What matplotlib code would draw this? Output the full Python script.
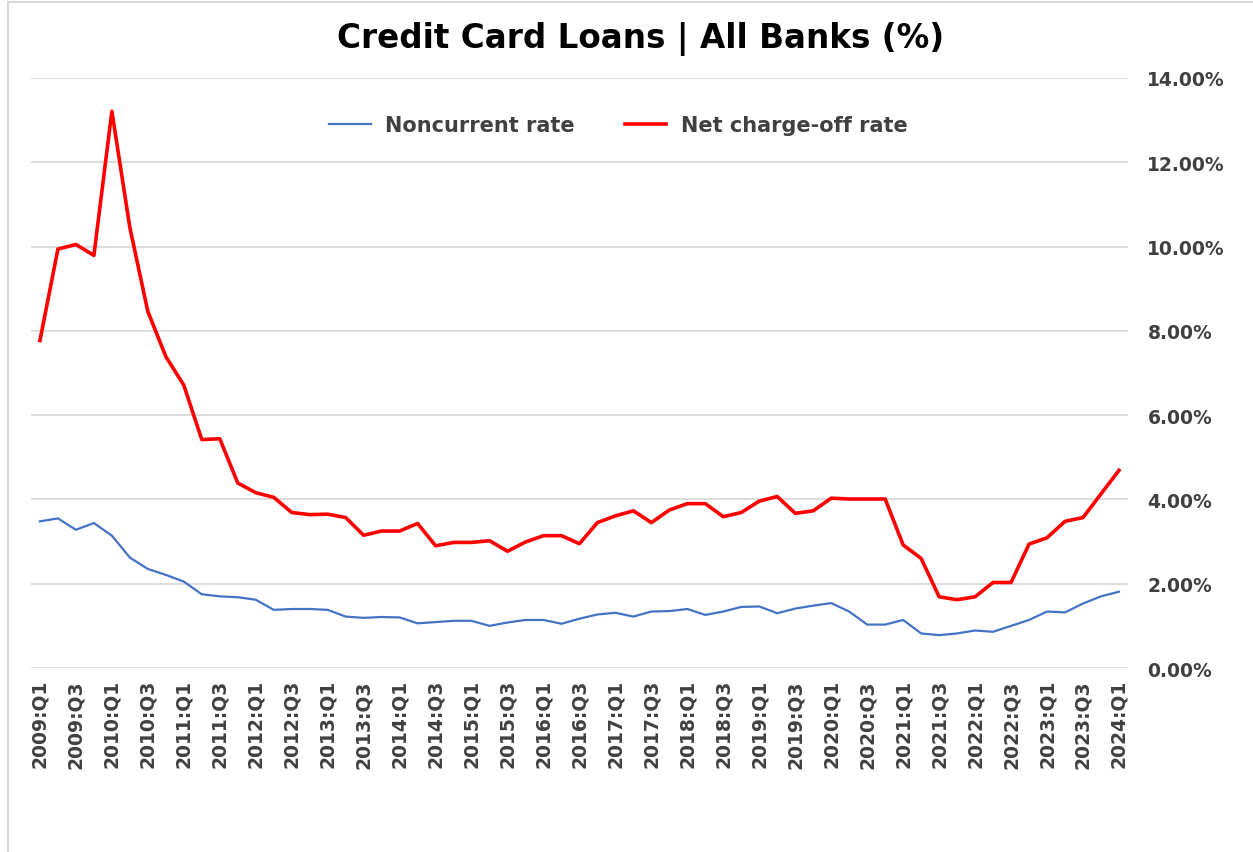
import matplotlib.pyplot as plt
from matplotlib.ticker import FuncFormatter
from matplotlib.patches import Rectangle

# quarterly series, 2009:Q1 .. 2024:Q1 (values in %)
years = list(range(2009, 2025))
quarters = [f"{y}:Q{q}" for y in years for q in range(1, 5)][:61]

noncurrent = [3.48, 3.55, 3.28, 3.44, 3.14, 2.62, 2.35, 2.21, 2.05, 1.75,
              1.70, 1.68, 1.62, 1.38, 1.40, 1.40, 1.38, 1.22, 1.19, 1.21,
              1.20, 1.06, 1.09, 1.12, 1.12, 1.00, 1.08, 1.14, 1.14, 1.05,
              1.17, 1.27, 1.31, 1.22, 1.34, 1.35, 1.40, 1.26, 1.34, 1.45,
              1.46, 1.30, 1.41, 1.48, 1.54, 1.34, 1.03, 1.03, 1.14, 0.82,
              0.78, 0.82, 0.89, 0.86, 1.00, 1.14, 1.34, 1.32, 1.53, 1.70,
              1.81]
net_chargeoff = [7.77, 9.94, 10.05, 9.79, 13.21, 10.45, 8.46, 7.39, 6.71, 5.42,
                 5.44, 4.39, 4.16, 4.05, 3.69, 3.64, 3.65, 3.57, 3.15, 3.25,
                 3.25, 3.43, 2.90, 2.98, 2.98, 3.02, 2.77, 2.99, 3.14, 3.14,
                 2.95, 3.45, 3.61, 3.73, 3.45, 3.75, 3.90, 3.90, 3.59, 3.69,
                 3.96, 4.07, 3.67, 3.73, 4.03, 4.01, 4.01, 4.01, 2.92, 2.60,
                 1.69, 1.62, 1.69, 2.03, 2.03, 2.94, 3.09, 3.48, 3.57, 4.13,
                 4.69]

plt.rcParams['font.family'] = ['DejaVu Sans']
fig = plt.figure(figsize=(12.53, 8.53), dpi=100)
ax = fig.add_axes([0.0247, 0.2157, 0.8755, 0.6917])

# light frame around the chart area (right/bottom edges fall outside)
fig.patches.append(Rectangle((8 / 1253, -0.1), 1.2, 1.1 - 3 / 853,
                             transform=fig.transFigure, fill=False,
                             edgecolor='#d9d9d9', linewidth=1.5))

x = range(len(quarters))
ax.plot(x, noncurrent, color='#4472C4', lw=1.6, label='Noncurrent rate')
ax.plot(x, net_chargeoff, color='#FF0000', lw=2.6, label='Net charge-off rate')

ax.set_xlim(-0.5, len(quarters) - 0.5)
ax.set_ylim(0, 14)
ax.set_yticks(range(0, 15, 2))
ax.yaxis.set_major_formatter(FuncFormatter(lambda v, p: f"{v:.2f}%"))
ax.yaxis.tick_right()
ax.grid(axis='y', color='#d9d9d9', lw=1.3)
ax.set_axisbelow(True)
for s in ax.spines.values():
    s.set_visible(False)

ax.set_xticks(list(x)[::2])
ax.set_xticklabels(quarters[::2], rotation=90)
ax.tick_params(axis='both', length=0, labelsize=13.5, labelcolor='#404040')
ax.tick_params(axis='y', pad=14)
ax.tick_params(axis='x', pad=8)
for lab in ax.get_xticklabels() + ax.get_yticklabels():
    lab.set_fontweight('bold')

fig.text(0.511, 0.954, 'Credit Card Loans | All Banks (%)', ha='center', va='center',
         fontsize=23.5, fontweight='bold', color='black')

leg = ax.legend(loc='center', bbox_to_anchor=(0.5355, 0.92), ncol=2, frameon=False,
                handlelength=2.0, handletextpad=0.7, columnspacing=2.4,
                prop={'weight': 'bold', 'size': 15})
for t in leg.get_texts():
    t.set_color('#404040')

fig.savefig('out.png', dpi=100)
